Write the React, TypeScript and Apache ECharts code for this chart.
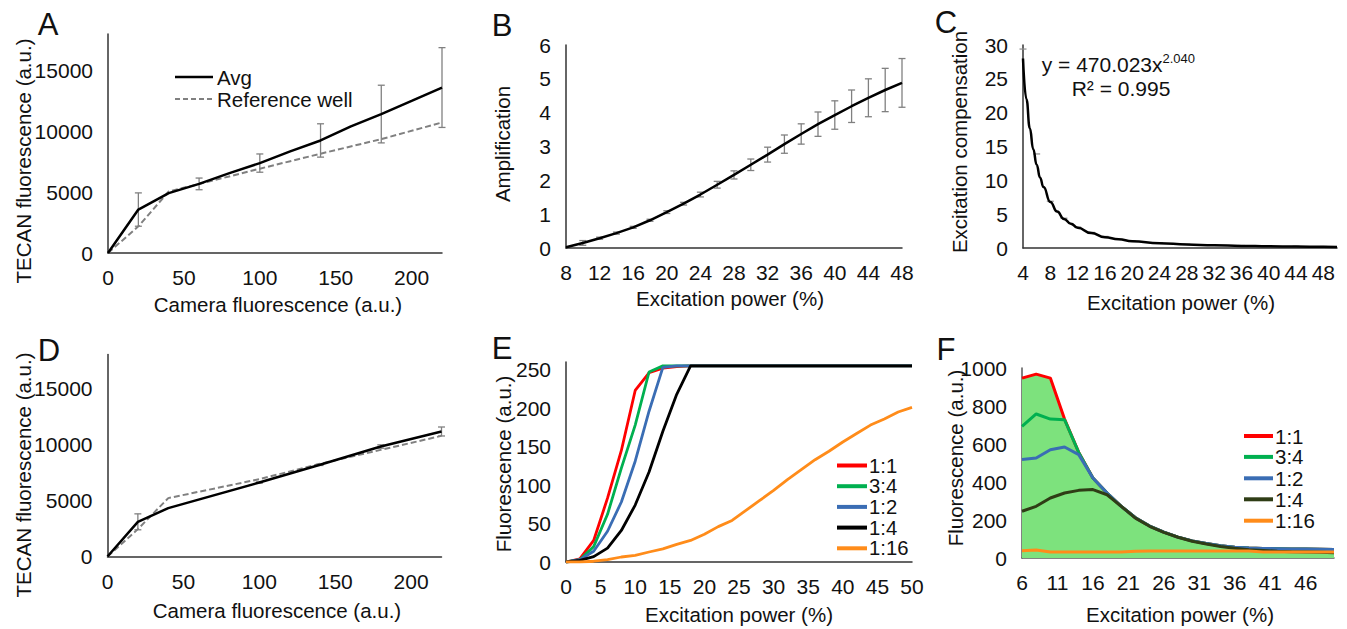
import React, { useEffect, useRef } from 'react';
import * as echarts from 'echarts';

const FONT = '"Liberation Sans", Arial, Helvetica, sans-serif';
const TXT = '#111111';
const AXIS = '#333333';
const ERR = '#808080';

// ---------- Panel A ----------
const aCamera = [0, 20, 40, 60, 80, 100, 120, 140, 160, 180, 200, 220];
const aAvg = [0, 3570, 4920, 5680, 6560, 7390, 8350, 9250, 10400, 11420, 12500, 13600];
const aErr = [0, 1370, 0, 480, 0, 750, 0, 1370, 0, 2370, 0, 3280];
const aRefCamera = [0, 20, 40, 60, 100, 140, 180, 220];
const aRef = [0, 2190, 5060, 5670, 6930, 8160, 9360, 10730];

// ---------- Panel D ----------
const dCamera = [0, 20, 40, 100, 140, 180, 220];
const dAvg = [0, 3090, 4310, 6590, 8170, 9800, 11140];
const dErr = [0, 710, 0, 60, 60, 150, 400];
const dRefCamera = [0, 20, 40, 100, 140, 180, 220];
const dRef = [0, 2440, 5200, 6890, 8260, 9500, 10750];

const tecanTicks = [0, 5000, 10000, 15000];
const cameraTicks = [0, 50, 100, 150, 200];
const abLegend = ['Avg', 'Reference well'];

// ---------- Panel B ----------
const bPower = [8, 10, 12, 14, 16, 18, 20, 22, 24, 26, 28, 30, 32, 34, 36, 38, 40, 42, 44, 46, 48];
const bAmp = [0.02, 0.15, 0.29, 0.44, 0.61, 0.82, 1.06, 1.31, 1.58, 1.87, 2.16, 2.46, 2.76, 3.07, 3.37, 3.66, 3.93, 4.19, 4.44, 4.67, 4.88];
const bErr = [0, 0.07, 0.03, 0.03, 0.03, 0.03, 0.04, 0.04, 0.07, 0.1, 0.12, 0.17, 0.22, 0.27, 0.3, 0.36, 0.42, 0.48, 0.56, 0.64, 0.72];
const bXTicks = [8, 12, 16, 20, 24, 28, 32, 36, 40, 44, 48];
const bYTicks = [0, 1, 2, 3, 4, 5, 6];

// ---------- Panel C ----------
const cPower = [4, 6, 8, 10, 12, 14, 16, 20, 24, 28, 32, 36, 40, 44, 48];
const cComp = [29.4, 13.9, 6.9, 4.4, 3.1, 2.3, 1.7, 1.05, 0.75, 0.55, 0.45, 0.35, 0.3, 0.25, 0.2];
const cFitPower = [4, 4.5, 5, 5.5, 6, 6.5, 7, 8, 9, 10, 11, 12, 14, 16, 18, 20, 24, 28, 32, 36, 40, 44, 48, 50];
const cFit = [28.0, 22.0, 17.7, 14.6, 12.3, 10.4, 9.0, 6.8, 5.4, 4.3, 3.6, 3.0, 2.2, 1.6, 1.3, 1.0, 0.71, 0.52, 0.4, 0.31, 0.25, 0.21, 0.18, 0.16];
const cXTicks = [4, 8, 12, 16, 20, 24, 28, 32, 36, 40, 44, 48];
const cYTicks = [0, 5, 10, 15, 20, 25, 30];

// ---------- Panel E ----------
const ePower = [0, 2, 4, 6, 8, 10, 12, 14, 16, 18, 20, 22, 24, 26, 28, 30, 32, 34, 36, 38, 40, 42, 44, 46, 48, 50];
const e11 = [0, 4, 28, 83, 145, 223, 246, 252, 254, 255, 255, 255, 255, 255, 255, 255, 255, 255, 255, 255, 255, 255, 255, 255, 255, 255];
const e34 = [0, 3, 20, 62, 122, 178, 247, 255, 255, 255, 255, 255, 255, 255, 255, 255, 255, 255, 255, 255, 255, 255, 255, 255, 255, 255];
const e12 = [0, 3, 14, 40, 78, 131, 196, 253, 255, 255, 255, 255, 255, 255, 255, 255, 255, 255, 255, 255, 255, 255, 255, 255, 255, 255];
const e14 = [0, 2, 7, 18, 41, 74, 117, 170, 218, 255, 255, 255, 255, 255, 255, 255, 255, 255, 255, 255, 255, 255, 255, 255, 255, 255];
const e116 = [0, 0, 1, 3, 6.5, 8.7, 13, 17, 23, 28, 36, 46, 54, 67, 80, 93, 107, 120, 133, 144, 156, 167, 178, 186, 195, 201];
const eXTicks = [0, 5, 10, 15, 20, 25, 30, 35, 40, 45, 50];
const eYTicks = [0, 50, 100, 150, 200, 250];

// ---------- Panel F ----------
const fPower = [6, 8, 10, 12, 14, 16, 18, 20, 22, 24, 26, 28, 30, 32, 34, 36, 38, 40, 42, 44, 46, 48, 50];
const f11 = [947, 968, 947, 731, 556, 421, 342, 272, 212, 168, 136, 110, 90, 76, 64, 56, 52, 50, 49, 48, 47, 46, 45];
const f34 = [693, 758, 731, 728, 556, 421, 342, 272, 212, 168, 136, 110, 90, 76, 64, 56, 52, 50, 49, 48, 47, 46, 45];
const f12 = [518, 526, 570, 584, 544, 421, 342, 272, 212, 168, 136, 110, 90, 76, 64, 56, 52, 50, 49, 48, 47, 46, 45];
const f14 = [246, 272, 316, 342, 356, 360, 333, 272, 210, 167, 135, 109, 88, 74, 61, 51, 44, 40, 35, 33, 32, 30, 28];
const f116 = [38, 42, 32, 31, 31, 31, 31, 31, 36, 37, 37, 37, 37, 37, 37, 37, 37, 32, 32, 32, 32, 32, 32];
const fXTicks = [6, 11, 16, 21, 26, 31, 36, 41, 46];
const fYTicks = [0, 200, 400, 600, 800, 1000];

const ratioNames = ['1:1', '3:4', '1:2', '1:4', '1:16'];
const eColors = ['#ff0000', '#00b050', '#3a6db4', '#000000', '#ff8c1a'];
const fColors = ['#ff0000', '#00b050', '#3a6db4', '#2f3d16', '#ff8c1a'];

const zip = (xs: number[], ys: number[]) => xs.map((x, i) => [x, ys[i]]);
const plain = (v: number) => String(v);

function xAxisCfg(gridIndex: number, min: number, max: number, ticks: number[], axisColor = AXIS) {
  return {
    type: 'value', gridIndex, min, max,
    axisLine: { show: true, onZero: false, lineStyle: { color: axisColor, width: 1.5 } },
    axisTick: { show: false },
    splitLine: { show: false },
    axisLabel: { customValues: ticks, formatter: plain, fontSize: 21, color: TXT, fontFamily: FONT, margin: 14, hideOverlap: false, showMinLabel: true, showMaxLabel: true },
  };
}
function yAxisCfg(gridIndex: number, min: number, max: number, ticks: number[], axisColor = AXIS) {
  return {
    type: 'value', gridIndex, min, max,
    axisLine: { show: true, onZero: false, lineStyle: { color: axisColor, width: 1.5 } },
    axisTick: { show: false },
    splitLine: { show: false },
    axisLabel: { customValues: ticks, formatter: plain, fontSize: 21, color: TXT, fontFamily: FONT, margin: 15, hideOverlap: false, showMinLabel: true, showMaxLabel: true },
  };
}

function errSeries(idx: number, xs: number[], ys: number[], errs: number[], cap = 3.5) {
  const data = xs.map((x, i) => [x, ys[i] - errs[i], ys[i] + errs[i]]).filter((_, i) => errs[i] > 0);
  return {
    type: 'custom', xAxisIndex: idx, yAxisIndex: idx, data, z: 1, silent: true,
    encode: { x: 0, y: [1, 2] },
    renderItem: (_p: any, api: any) => {
      const lo = api.coord([api.value(0), api.value(1)]);
      const hi = api.coord([api.value(0), api.value(2)]);
      const style = { stroke: ERR, lineWidth: 1.3, fill: null };
      return {
        type: 'group',
        children: [
          { type: 'line', shape: { x1: lo[0], y1: lo[1], x2: hi[0], y2: hi[1] }, style },
          { type: 'line', shape: { x1: lo[0] - cap, y1: lo[1], x2: lo[0] + cap, y2: lo[1] }, style },
          { type: 'line', shape: { x1: hi[0] - cap, y1: hi[1], x2: hi[0] + cap, y2: hi[1] }, style },
        ],
      };
    },
  };
}

function lineSeries(idx: number, name: string, xs: number[], ys: number[], color: string, width: number, extra: any = {}) {
  return {
    type: 'line', name, xAxisIndex: idx, yAxisIndex: idx, data: zip(xs, ys),
    symbol: 'none', showSymbol: false, silent: true, z: 3,
    lineStyle: { color, width, ...(extra.lineStyle || {}) },
    ...extra.rest,
  };
}

function txt(text: string, x: number, y: number, size: number, opts: any = {}) {
  return {
    type: 'text', x, y, rotation: opts.rotation || 0, silent: true, z: 10,
    style: {
      text, fontSize: size, fontFamily: FONT, fill: TXT,
      textAlign: opts.align || 'center', align: opts.align || 'center',
      textVerticalAlign: 'middle', verticalAlign: 'middle',
    },
  };
}
function seg(x1: number, y1: number, x2: number, y2: number, color: string, width: number, dash?: number[]) {
  return {
    type: 'line', silent: true, z: 10,
    shape: { x1, y1, x2, y2 },
    style: { stroke: color, lineWidth: width, lineDash: dash || null },
  };
}

export default function App() {
  const ref = useRef<HTMLDivElement>(null);
  useEffect(() => {
    if (!ref.current) return;
    const chart = echarts.init(ref.current, undefined, { renderer: 'svg' });

    const grids = [
      { left: 108, top: 34, width: 334, height: 219 },
      { left: 566, top: 45, width: 336, height: 203 },
      { left: 1023, top: 45, width: 314, height: 203 },
      { left: 107.5, top: 354.5, width: 334, height: 202 },
      { left: 566, top: 362, width: 346, height: 200 },
      { left: 1022, top: 368, width: 312, height: 190 },
    ].map((g) => ({ ...g, containLabel: false, outerBoundsMode: 'none' }));

    const xAxes = [
      xAxisCfg(0, 0, 220, cameraTicks),
      xAxisCfg(1, 8, 48, bXTicks),
      xAxisCfg(2, 4, 50, cXTicks),
      xAxisCfg(3, 0, 220, cameraTicks),
      xAxisCfg(4, 0, 50, eXTicks),
      xAxisCfg(5, 6, 50, fXTicks, '#595959'),
    ];
    const yAxes = [
      yAxisCfg(0, 0, 18000, tecanTicks),
      yAxisCfg(1, 0, 6, bYTicks),
      yAxisCfg(2, 0, 30, cYTicks),
      yAxisCfg(3, 0, 18000, tecanTicks),
      yAxisCfg(4, 0, 260, eYTicks),
      yAxisCfg(5, 0, 1000, fYTicks, '#595959'),
    ];

    const series: any[] = [
      // A
      errSeries(0, aCamera, aAvg, aErr),
      lineSeries(0, abLegend[1], aRefCamera, aRef, '#808080', 2, { lineStyle: { type: [6, 3] } }),
      lineSeries(0, abLegend[0], aCamera, aAvg, '#000000', 2.5),
      // B
      errSeries(1, bPower, bAmp, bErr),
      lineSeries(1, 'Amplification', bPower, bAmp, '#000000', 2.5),
      // C
      {
        type: 'scatter', xAxisIndex: 2, yAxisIndex: 2, data: zip(cPower, cComp),
        symbol: 'rect', symbolSize: [7, 1.5], itemStyle: { color: '#8c8c8c' }, z: 1, silent: true,
      },
      lineSeries(2, 'Fit', cFitPower, cFit, '#000000', 2.5, { rest: { smooth: 0.5, smoothMonotone: 'x' } }),
      // D
      errSeries(3, dCamera, dAvg, dErr),
      lineSeries(3, abLegend[1], dRefCamera, dRef, '#808080', 2, { lineStyle: { type: [6, 3] } }),
      lineSeries(3, abLegend[0], dCamera, dAvg, '#000000', 2.5),
    ];
    const eData = [e11, e34, e12, e14, e116];
    eData.forEach((d, i) => series.push(lineSeries(4, ratioNames[i], ePower, d, eColors[i], 2.8)));
    const fData = [f11, f34, f12, f14, f116];
    fData.forEach((d, i) =>
      series.push(
        lineSeries(5, ratioNames[i], fPower, d, fColors[i], 3,
          i === 0 ? { rest: { areaStyle: { color: '#7de27d', opacity: 1, origin: 'start' }, z: 2 } } : {})
      )
    );

    const graphic: any[] = [
      // panel letters
      txt('A', 48, 24, 31), txt('B', 502, 25, 31), txt('C', 946, 22, 31),
      txt('D', 49, 350, 31), txt('E', 502, 348, 31), txt('F', 946, 349, 31),
      // axis names
      txt('Camera fluorescence (a.u.)', 278, 304, 20.5),
      txt('TECAN fluorescence (a.u.)', 23, 161, 20.5, { rotation: Math.PI / 2 }),
      txt('Excitation power (%)', 730, 298, 20.5),
      txt('Amplification', 502, 144, 20.5, { rotation: Math.PI / 2 }),
      txt('Excitation power (%)', 1181, 302, 20.5),
      txt('Excitation compensation', 959, 142, 20.5, { rotation: Math.PI / 2 }),
      txt('Camera fluorescence (a.u.)', 277, 610, 20.5),
      txt('TECAN fluorescence (a.u.)', 23, 475, 20.5, { rotation: Math.PI / 2 }),
      txt('Excitation power (%)', 739, 614, 20.5),
      txt('Fluorescence (a.u.)', 503, 464, 20.5, { rotation: Math.PI / 2 }),
      txt('Excitation power (%)', 1180, 614, 20.5),
      txt('Fluorescence (a.u.)', 955, 458, 20.5, { rotation: Math.PI / 2 }),
      // C equation
      txt('y = 470.023x', 1041.7, 64, 21, { align: 'left' }),
      txt('2.040', 1162.5, 58, 13, { align: 'left' }),
      txt('R² = 0.995', 1071.7, 88, 21, { align: 'left' }),
      // A legend
      seg(175, 77, 213, 77, '#000000', 2.5), txt(abLegend[0], 217, 77, 20.5, { align: 'left' }),
      seg(175, 99, 213, 99, '#808080', 2, [5, 3]), txt(abLegend[1], 217, 99, 20.5, { align: 'left' }),
    ];
    const eLegY = [465.5, 486.2, 506.9, 527.6, 548.3];
    ratioNames.forEach((n, i) => {
      graphic.push(seg(837, eLegY[i], 867, eLegY[i], eColors[i], 4));
      graphic.push(txt(n, 869, eLegY[i], 20.3, { align: 'left' }));
    });
    const fLegY = [436, 456.9, 478.3, 499.3, 520.7];
    ratioNames.forEach((n, i) => {
      graphic.push(seg(1244, fLegY[i], 1273, fLegY[i], fColors[i], 4));
      graphic.push(txt(n, 1275, fLegY[i], 20.5, { align: 'left' }));
    });

    chart.setOption({
      animation: false,
      backgroundColor: '#ffffff',
      textStyle: { fontFamily: FONT },
      grid: grids,
      xAxis: xAxes,
      yAxis: yAxes,
      series,
      graphic,
    });
    return () => chart.dispose();
  }, []);
  return (
    <div
      ref={ref}
      style={{ position: 'absolute', left: 0, top: 0, width: 1347, height: 629, background: '#fff' }}
    />
  );
}
